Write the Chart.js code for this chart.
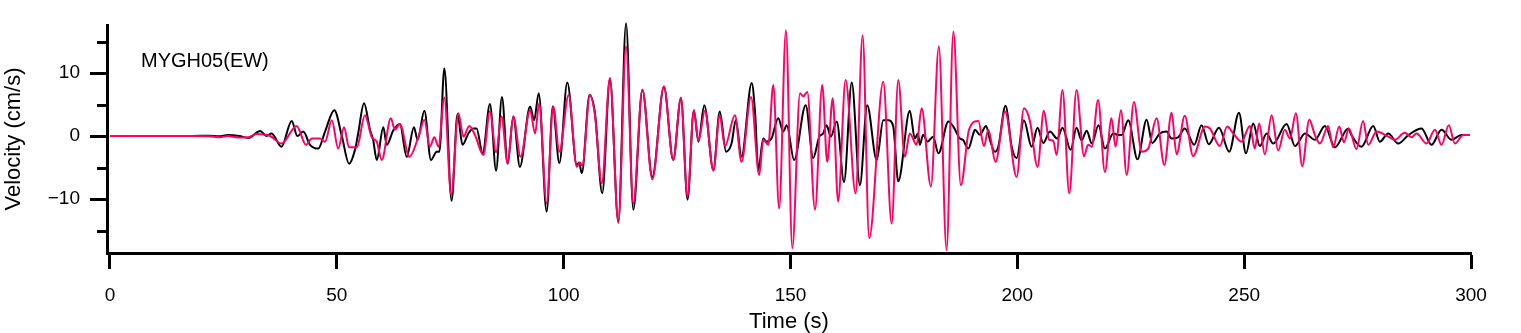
<!DOCTYPE html>
<html>
<head>
    <title>MYGH05 (EW) velocity</title>
    <script src="https://cdn.jsdelivr.net/npm/chart.js"></script>
    <style>
        body { margin: 0; background: #fff; }
        #wrap { width: 1521px; height: 333px; }
    </style>
</head>
<body>
    <div id="wrap">
        <canvas id="waveChart"></canvas>
    </div>

    <script>
        // Station label and axis ticks
        const stationLabel = "MYGH05(EW)";
        const xTicks = [0, 50, 100, 150, 200, 250, 300];
        const yTicks = [-10, 0, 10];
        const yMinorTicks = [-15, -5, 5, 15];

        const blackTime = [
            0, 10, 18, 22, 24, 26, 28.5, 30.5, 33.1, 34.5, 35.6, 37.8, 40.05, 41.3, 42.6, 44.1, 45.9, 47.4, 49.45, 51.1,
            52.7, 54.0, 54.7, 56.0, 57.3, 58.0, 58.8, 60.25, 61.0, 62.45, 63.9, 65.4, 67.0, 67.8, 69.3, 70.75, 72.0, 72.6, 73.7, 75.3, 76.6, 77.7, 79.0, 80.1,
            80.8, 82.15, 83.75, 85.1, 86.4, 87.65, 88.9, 90.35, 92.6, 93.5, 94.5, 96.25, 97.6, 99.05, 100.8, 102.9, 103.4, 104.0, 105.7, 106.9,
            108.5, 110.2, 112.05, 113.75, 115.35, 117.35, 119.55, 122.1, 124.15, 125.85, 127.3, 128.7, 129.7, 131.0, 133.0, 134.4,
            135.8, 137.0, 137.95, 139.2, 141.45, 142.2, 142.9, 144.0, 144.7, 145.8, 147.3, 148.4, 149.15, 150.8, 153.35, 155.0, 156.35, 157.2, 157.95, 158.9, 160.2, 161.8,
            163.5, 165.3, 166.9, 169.0, 170.45, 171.55, 172.65, 173.75, 176.3, 177.4, 178.1, 178.5, 179.25, 180.2, 181.45, 182.6, 184.8, 185.9, 187.35, 188.0, 189.2, 190.3,
            190.65, 191.75, 193.1, 193.95, 195.05, 195.8, 197.4, 198.75, 199.85, 201.45, 203.15, 204.45, 205.7, 207.2, 208.8, 209.95, 211.75, 213.05, 214.15, 215.3, 216.4, 217.9,
            219.3, 221.15, 222.25, 223.0, 224.45, 226.5, 228.5, 229.75, 231.4, 232.9, 234.0, 235.45, 236.9, 239.0, 240.6, 242.2, 244.45,
            246.7, 248.85, 250.4, 252.0, 253.45, 254.95, 256.4, 259.35, 261.2, 263.4, 265.6, 267.8, 270.0, 272.95,
            273.65, 275.85, 278.45, 279.9, 281.75, 283.95, 286.2, 289.1, 291.3, 293.5, 295.7, 297.9, 299.75
        ];
        const blackVel = [
            0, 0, 0, 0.05, -0.05, 0.15, 0, -0.3, 0.8, 0, 0.4, -1.7, 2.4, 0, 0.7, -1.4, -2.0, 0.7, 4.1, 0,
            -4.4, -2.2, 0.4, 5.2, 1.0, -0.6, -3.8, 1.4, -1.4, 0.9, 1.9, -3.3, 1.4, -0.6, 4.0, -3.8, -2.5, -2.5, 10.7, -10.3, 3.5, -1.4, 0.4, 1.2,
            1.2, -2.75, 5.1, -5.5, 6.2, -4.4, 3.1, -4.9, 4.7, 2.5, 6.8, -12.0, 4.7, -4.3, 8.5, -4.6, -4.2, -5.9, 6.5, 3.6,
            -9.1, 9.0, -13.6, 17.9, -11.7, 7.3, -6.5, 7.8, -3.8, 6.0, -10.1, 4.1, -0.9, 4.9, -5.4, 3.9,
            -2.5, -1.2, 2.5, -3.3, 8.4, 3.6, -5.4, -0.4, -0.9, -0.4, 2.8, 0.7, 1.7, -3.8, 4.9, -3.5, -0.1, 0.4, 1.7, -0.1, 2.3, -7.3,
            8.5, -7.8, 4.9, -3.8, 2.5, 2.5, 1.5, -7.2, 4.0, -0.4, 0.4, -1.4, 0.2, -0.9, -0.1, -2.75, 2.3, 1.5, -0.4, -0.6, -2.0, 0.4,
            1.0, 0.2, 1.6, -0.6, -2.5, -1.7, 4.8, -1.7, -3.5, 2.5, -1.7, 1.3, -1.1, 0.7, -0.4, 1.3, -2.2, 1.3, -0.7, 0.85, -1.2, 1.7,
            -2.0, 0.4, 0.15, 0.15, 2.5, -3.7, 2.6, -1.1, 0.4, 0.7, -0.4, -0.2, 1.2, -1.4, 1.7, -1.3, 1.3,
            -2.5, 3.7, -2.75, 2.0, -1.6, 0.4, -1.2, 1.9, -1.6, 0.4, -0.6, 1.6, -1.8, 1.2,
            0.15, -1.7, 1.6, -0.9, 0.4, -1.2, 0.15, 1.2, -1.4, 1.0, -0.6, 0.15, 0.15
        ];

        // Pink trace: times (s) and velocities (cm/s)
        const pinkTime = [
            0, 18, 22, 24.2, 26, 28.3, 30.5, 32.3, 35.3, 37.8, 41.15, 43.2, 44.5, 46.3, 47.4, 48.9, 50.3, 51.6,
            52.7, 54.4, 56.2, 57.7, 58.8, 59.9, 61.9, 62.8, 63.9, 66.0, 68.0, 69.3, 70.5, 71.5, 72.4, 73.7, 75.2, 76.8, 77.9, 79.2,
            80.45, 82.3, 83.75, 85.1, 86.3, 87.65, 88.9, 90.5, 92.6, 93.7, 94.6, 96.25, 97.7, 99.05, 101.1, 102.9, 103.6, 104.1, 105.8, 106.9, 108.4,
            110.2, 112.05, 113.75, 115.35, 117.35, 119.55, 122.1, 124.15, 125.85, 127.3, 128.7, 129.7, 131.15, 133.0, 134.4,
            135.55, 137.75, 139.2, 141.3, 143.1, 144.0, 145.1, 146.2, 147.5, 149.0, 150.4, 152.1, 152.8, 153.7, 155.4, 157.0, 158.1, 159.3, 160.5, 162.15,
            164.35, 165.9, 167.35, 170.45, 172.3, 173.75, 175.2, 176.3, 177.8, 178.9, 180.95, 182.7, 184.4, 185.9, 187.55, 189.35,
            191.4, 192.65, 193.6, 195.2, 197.3, 199.85, 201.45, 202.8, 204.45, 205.85, 207.0, 207.9, 208.65, 209.95, 211.45, 213.05, 214.7, 215.6, 216.4, 217.8,
            219.3, 220.75, 221.65, 222.85, 224.1, 225.7, 227.4, 228.85, 230.7, 232.4, 234.0, 235.1, 236.9, 238.75, 241.35, 242.45, 244.65,
            246.25, 247.6, 249.4, 251.25, 252.35, 253.3, 254.55, 256.05, 257.5, 258.95, 260.1, 261.4, 262.8, 264.35, 265.6, 266.7, 268.5, 269.6, 270.95, 272.0,
            273.1, 274.75, 276.2, 277.35, 279.2, 281.75, 283.2, 285.4, 286.9, 288.0, 290.2, 292.05, 293.5, 295.1, 296.45, 298.3, 299.75
        ];
        const pinkVel = [
            0, 0, -0.05, -0.2, 0, -0.25, -0.2, 0.3, 0, -1.2, 1.6, -1.4, -0.4, -0.4, -0.9, 2.5, -2.0, 1.4,
            -1.8, -1.8, 3.3, -0.2, -0.9, -3.8, 2.8, 1.0, 1.9, -3.3, -0.1, 2.6, -1.7, -0.2, -1.7, 6.1, -9.3, 3.6, -0.1, 1.6,
            0.15, -3.0, 3.9, -2.6, 3.1, -4.3, 3.1, -3.3, 4.1, 0.4, 5.2, -10.7, 4.7, -2.5, 6.5, -4.9, -4.2, -4.7, 6.5, 3.3, -7.5,
            9.2, -13.8, 14.2, -10.7, 7.4, -6.9, 7.9, -3.8, 6.1, -9.6, 4.1, -0.7, 4.0, -5.5, 3.3,
            -1.6, 3.3, -4.1, 6.2, -6.2, -0.6, -1.4, 8.1, -11.5, 16.8, -17.8, 6.8, 6.3, 7.0, -11.7, 8.1, -4.1, 6.0, -10.4, 8.9,
            -9.1, 16.0, -16.2, 8.6, -13.9, 8.9, -3.3, 0.4, -1.4, 4.4, -8.0, 14.2, -18.1, 16.6, -7.8, 1.0,
            2.4, -1.6, 1.0, -4.1, 3.9, -6.5, 4.4, 2.3, -4.9, 4.0, -0.6, -0.7, -3.0, 7.3, -9.1, 7.3, -3.2, -1.4, -1.7, 5.7,
            -5.7, 2.8, -1.7, 4.1, -6.2, 5.4, -2.5, -2.0, 2.8, -4.6, 3.7, -2.9, 3.2, -3.2, 1.5, 1.2, -1.6,
            1.5, 0.4, -0.9, 1.6, -2.0, 2.0, -2.9, 3.3, -2.3, 1.0, -0.4, 3.6, -4.8, 2.6, 0.15, -1.2, 1.6, -1.8, 1.5, -1.0,
            1.2, -2.1, 2.4, -1.4, 0.7, -0.1, -0.6, 0.5, -0.2, 0.4, -1.2, 1.0, -1.4, 1.7, -1.2, 0.15, 0.15
        ];

        const fontFamily = '"Liberation Sans", Arial, sans-serif';

        function toPoints(times, values) {
            return times.map((t, i) => ({ x: t, y: values[i] }));
        }

        // Short minor ticks on the y axis plus the station label
        const extrasPlugin = {
            id: "extras",
            afterDraw(chart) {
                const ctx = chart.ctx;
                const yScale = chart.scales.y;
                const left = chart.chartArea.left;
                ctx.save();
                ctx.strokeStyle = "#000";
                ctx.lineWidth = 3;
                yMinorTicks.forEach((v) => {
                    const py = Math.round(yScale.getPixelForValue(v)) + 0.5;
                    ctx.beginPath();
                    ctx.moveTo(left - 10, py);
                    ctx.lineTo(left, py);
                    ctx.stroke();
                });
                ctx.fillStyle = "#000";
                ctx.font = "20px " + fontFamily;
                ctx.textBaseline = "alphabetic";
                ctx.fillText(stationLabel, 141, 67);
                ctx.restore();
            }
        };

        const ctx = document.getElementById("waveChart").getContext("2d");
        const waveChart = new Chart(ctx, {
            type: "line",
            data: {
                datasets: [
                    {
                        label: "pink",
                        data: toPoints(pinkTime, pinkVel),
                        borderColor: "#ff0066",
                        borderWidth: 2,
                        pointRadius: 0,
                        cubicInterpolationMode: "monotone",
                        clip: false,
                        order: 1
                    },
                    {
                        label: "black",
                        data: toPoints(blackTime, blackVel),
                        borderColor: "#000000",
                        borderWidth: 2,
                        pointRadius: 0,
                        cubicInterpolationMode: "monotone",
                        clip: false,
                        order: 2
                    }
                ]
            },
            options: {
                responsive: true,
                maintainAspectRatio: false,
                animation: false,
                layout: {
                    padding: { left: 0, top: 25, right: 50, bottom: 0 }
                },
                scales: {
                    x: {
                        type: "linear",
                        min: -0.66,
                        max: 300,
                        afterBuildTicks: (scale) => {
                            scale.ticks = xTicks.map((v) => ({ value: v }));
                        },
                        afterFit: (scale) => {
                            scale.height = 80;
                        },
                        ticks: {
                            color: "#000",
                            padding: 15,
                            maxRotation: 0,
                            font: { family: fontFamily, size: 19 }
                        },
                        grid: {
                            drawOnChartArea: false,
                            tickLength: 16,
                            tickWidth: 3,
                            tickColor: "#000"
                        },
                        border: { display: true, color: "#000", width: 3 },
                        title: {
                            display: true,
                            text: "Time (s)",
                            color: "#000",
                            padding: { top: 0, bottom: 0 },
                            font: { family: fontFamily, size: 22, lineHeight: 1 }
                        }
                    },
                    y: {
                        min: -18.57,
                        max: 17.62,
                        afterBuildTicks: (scale) => {
                            scale.ticks = yTicks.map((v) => ({ value: v }));
                        },
                        afterFit: (scale) => {
                            scale.width = 107;
                        },
                        ticks: {
                            color: "#000",
                            padding: 10,
                            font: { family: fontFamily, size: 19 },
                            callback: (v) => (v < 0 ? "\u2212" + Math.abs(v) : String(v))
                        },
                        grid: {
                            drawOnChartArea: false,
                            tickLength: 17,
                            tickWidth: 3,
                            tickColor: "#000"
                        },
                        border: { display: true, color: "#000", width: 3 },
                        title: {
                            display: true,
                            text: "Velocity (cm/s)",
                            color: "#000",
                            padding: { top: 3, bottom: 0 },
                            font: { family: fontFamily, size: 22, lineHeight: 1 }
                        }
                    }
                },
                plugins: {
                    legend: { display: false },
                    tooltip: { enabled: false }
                }
            },
            plugins: [extrasPlugin]
        });
    </script>
</body>
</html>
